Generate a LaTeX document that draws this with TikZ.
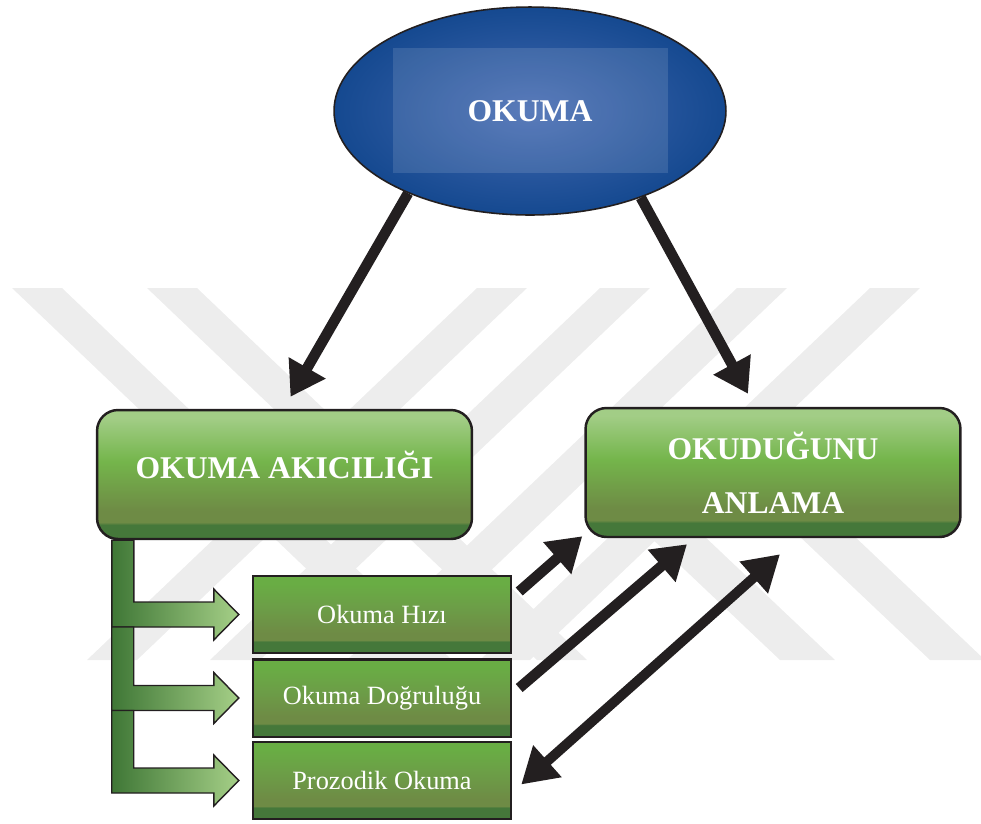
\documentclass[tikz,border=0pt]{standalone}
\usepackage{fontspec}
\setmainfont{Liberation Serif}
\usetikzlibrary{arrows.meta,calc,shapes.geometric,backgrounds}

\definecolor{inkblack}{HTML}{231F20}
\definecolor{wgray}{HTML}{EDEDED}
\definecolor{blueout}{HTML}{154990}
\definecolor{bluein}{HTML}{4369B1}
\definecolor{glight}{HTML}{A2CD86}
\definecolor{gmid}{HTML}{74B54B}
\definecolor{golive}{HTML}{6E8B45}
\definecolor{gdark}{HTML}{45783A}
\definecolor{sbright}{HTML}{69AD44}
\definecolor{smid}{HTML}{6C9E47}
\definecolor{cdark}{HTML}{3F7736}
\definecolor{cmid}{HTML}{6DB445}
\definecolor{clight}{HTML}{A5CF87}

% shadings for the green boxes (bottom to top)
\pgfdeclareverticalshading{mainshade}{100bp}{color(0bp)=(gdark); color(25bp)=(gdark);
  color(30.5bp)=(gdark); color(31.5bp)=(golive); color(36bp)=(golive);
  color(55bp)=(gmid); color(72bp)=(glight); color(100bp)=(glight)}
\pgfdeclareverticalshading{subshade}{100bp}{color(0bp)=(gdark); color(25bp)=(gdark);
  color(32.5bp)=(gdark); color(33.5bp)=(golive); color(38bp)=(golive);
  color(55bp)=(smid); color(70bp)=(sbright); color(100bp)=(sbright)}

\tikzset{
  wmark/.style={fill=wgray},
  mainbox/.style={draw=inkblack, line width=1.4pt, rounded corners=0.42cm, shading=mainshade,
    minimum width=7.5cm, minimum height=2.58cm, text=white, align=center,
    font=\bfseries\fontsize{18}{31}\selectfont},
  subbox/.style={draw=inkblack, line width=1.4pt, shading=subshade,
    minimum width=5.16cm, minimum height=1.55cm, text=white,
    font=\fontsize{15}{18}\selectfont},
  comb/.style={draw=inkblack, line width=0.8pt, left color=cdark, middle color=cmid, right color=clight},
  blk/.style={draw=inkblack, line width=6pt, -{Triangle[length=19pt,width=23pt]}},
  dblk/.style={draw=inkblack, line width=5.6pt, {Triangle[length=20pt,width=23pt]}-{Triangle[length=20pt,width=23pt]}}
}

\begin{document}
\begin{tikzpicture}[x=0.02cm,y=-0.02cm]
\useasboundingbox (0,0) rectangle (981,823);

\node[ellipse, draw=inkblack, line width=0.9pt, inner color=bluein, outer color=blueout,
  minimum width=7.84cm, minimum height=4.16cm, text=white,
  font=\bfseries\fontsize{18}{22}\selectfont] (okuma) at (530,111) {OKUMA};
\fill[white, fill opacity=0.12] ($(okuma.center)+(-137,-63)$) rectangle ++(275,125);

\node[mainbox, text depth=11pt] (akici) at (284.5,474.5) {OKUMA AKICILIĞI};
\node[mainbox] (anlama) at (773,472.5) {OKUDUĞUNU\\ANLAMA};

\node[subbox] (hiz) at (382,614.5) {Okuma Hızı};
\node[subbox] (dogru) at (382,698) {Okuma Doğruluğu};
\node[subbox] (prozodik) at (382,780.5) {Prozodik Okuma};

\begin{scope}[on background layer]
% watermark
\begin{scope}
\clip (0,288) rectangle (981,660);
\foreach \x in {12,147}
  \fill[wmark] (\x,288) -- ++(50,0) -- ++(390,372) -- ++(-50,0) -- cycle;
\foreach \x in {477,600,737,870}
  \fill[wmark] (\x,288) -- ++(50,0) -- ++(-390,372) -- ++(-50,0) -- cycle;
\foreach \x in {780,930}
  \fill[wmark] (\x,660) -- ++(55,0) -- ++(-190,-180) -- ++(-55,0) -- cycle;
\end{scope}
% black arrows from the ellipse
\draw[blk] (okuma.214) -- ($(akici.north)+(6,-12)$);
\draw[blk] (okuma.322) -- ($(anlama.north)+(-25,-13)$);
\end{scope}

\draw[blk] ($(hiz.east)+(7,-23)$) -- ($(anlama.south west)+(-2,-2)$);
\draw[blk] ($(dogru.east)+(7,-10)$) -- ($(anlama.south)+(-86,6)$);
\draw[dblk] ($(prozodik.east)+(9,4)$) -- ($(anlama.south)+(7,16)$);

% green comb arrows
\coordinate (s0) at ($(akici.south west)+(16,0)$);
\path (hiz.west) ++(-13,0) coordinate (t1) ++(-127,12.5) coordinate (s1);
\path (dogru.west) ++(-13,0) coordinate (t2) ++(-127,12.5) coordinate (s2);
\path (prozodik.west) ++(-13,0) coordinate (t3) ++(-127,12.5) coordinate (s3);
\foreach \i/\j in {1/0,2/1,3/2}
  \draw[comb] (s\j) -- ++(22,0) |- ($(t\i)+(-25,-12.5)$) -- ++(0,-13) -- (t\i)
    -- ++(-25,25.5) -- ++(0,-13) -| (s\j) -- cycle;
\end{tikzpicture}
\end{document}
